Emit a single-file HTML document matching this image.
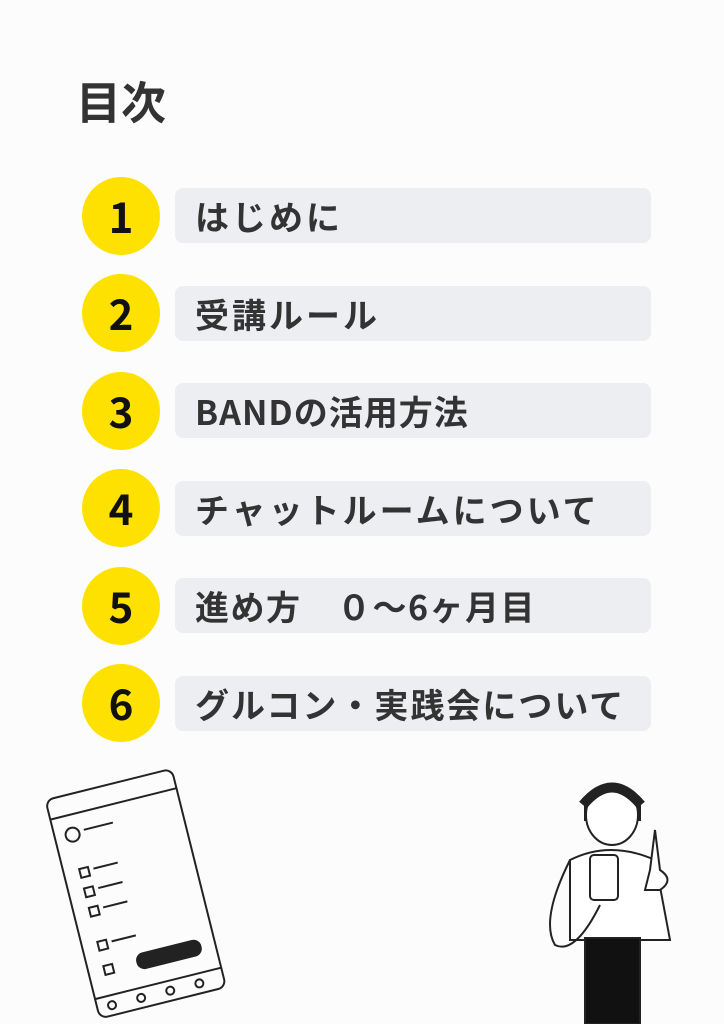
<!DOCTYPE html>
<html><head><meta charset="utf-8"><style>
body{margin:0;width:724px;height:1024px;background:#fcfcfc;position:relative;overflow:hidden;font-family:"Noto Sans CJK JP","Liberation Sans",sans-serif;}
.t{position:absolute;left:76px;top:67px;font-size:45px;font-weight:bold;color:#333;line-height:66px;}
.c{position:absolute;left:82px;width:78px;height:78px;border-radius:50%;background:#ffe100;color:#111;font-weight:bold;font-size:42px;text-align:center;line-height:78px;}
.b{position:absolute;left:175px;width:476px;height:55px;border-radius:8px;background:#eceef1;color:#333;font-weight:bold;font-size:34px;line-height:55px;padding-left:20px;box-sizing:border-box;white-space:pre;letter-spacing:3px;}
</style></head><body>
<div class="t">目次</div>
<div class="c" style="top:177px">1</div><div class="b" style="top:188px">はじめに</div>
<div class="c" style="top:274px">2</div><div class="b" style="top:286px">受講ルール</div>
<div class="c" style="top:372px">3</div><div class="b" style="top:383px;letter-spacing:1px">BANDの活用方法</div>
<div class="c" style="top:469px">4</div><div class="b" style="top:481px">チャットルームについて</div>
<div class="c" style="top:567px">5</div><div class="b" style="top:578px;letter-spacing:1.5px">進め方　０～6ヶ月目</div>
<div class="c" style="top:664px">6</div><div class="b" style="top:676px;letter-spacing:2px">グルコン・実践会について</div>
<svg style="position:absolute;left:0;top:760px" width="724" height="264" fill="none" stroke="#222" stroke-width="2">
<g transform="rotate(-14 140 130)">
<rect x="70" y="20" width="130" height="225" rx="8"/>
<line x1="70" y1="40" x2="200" y2="40"/><line x1="70" y1="225" x2="200" y2="225"/>
<circle cx="88" cy="60" r="7"/><line x1="100" y1="58" x2="130" y2="58"/>
<rect x="86" y="95" width="9" height="9"/><line x1="100" y1="98" x2="125" y2="98"/>
<rect x="86" y="115" width="9" height="9"/><line x1="100" y1="118" x2="125" y2="118"/>
<rect x="86" y="135" width="9" height="9"/><line x1="100" y1="138" x2="125" y2="138"/>
<rect x="86" y="170" width="9" height="9"/><line x1="100" y1="173" x2="125" y2="173"/>
<rect x="86" y="195" width="9" height="9"/>
<rect x="120" y="192" width="65" height="15" rx="7" fill="#222"/>
<circle cx="85" cy="235" r="4"/><circle cx="115" cy="235" r="4"/><circle cx="145" cy="235" r="4"/><circle cx="175" cy="235" r="4"/>
</g>
<path d="M585 40 q25 -30 55 0 l0 20 l-55 0z" fill="#222"/>
<ellipse cx="612" cy="55" rx="26" ry="30" fill="#fff"/>
<path d="M583 45 q29 -35 58 0" stroke-width="10"/>
<path d="M570 100 q40 -20 85 0 l15 80 l-100 0z" fill="#fff"/>
<rect x="585" y="178" width="55" height="86" fill="#111"/>
<rect x="590" y="95" width="28" height="45" rx="4" fill="#fff"/>
<path d="M650 110 l5 -40 l5 40 q15 10 0 20 l-15 0z" fill="#fff"/>
<path d="M570 100 q-30 60 -15 85 q20 10 45 -40"/>
</svg>
</body></html>
